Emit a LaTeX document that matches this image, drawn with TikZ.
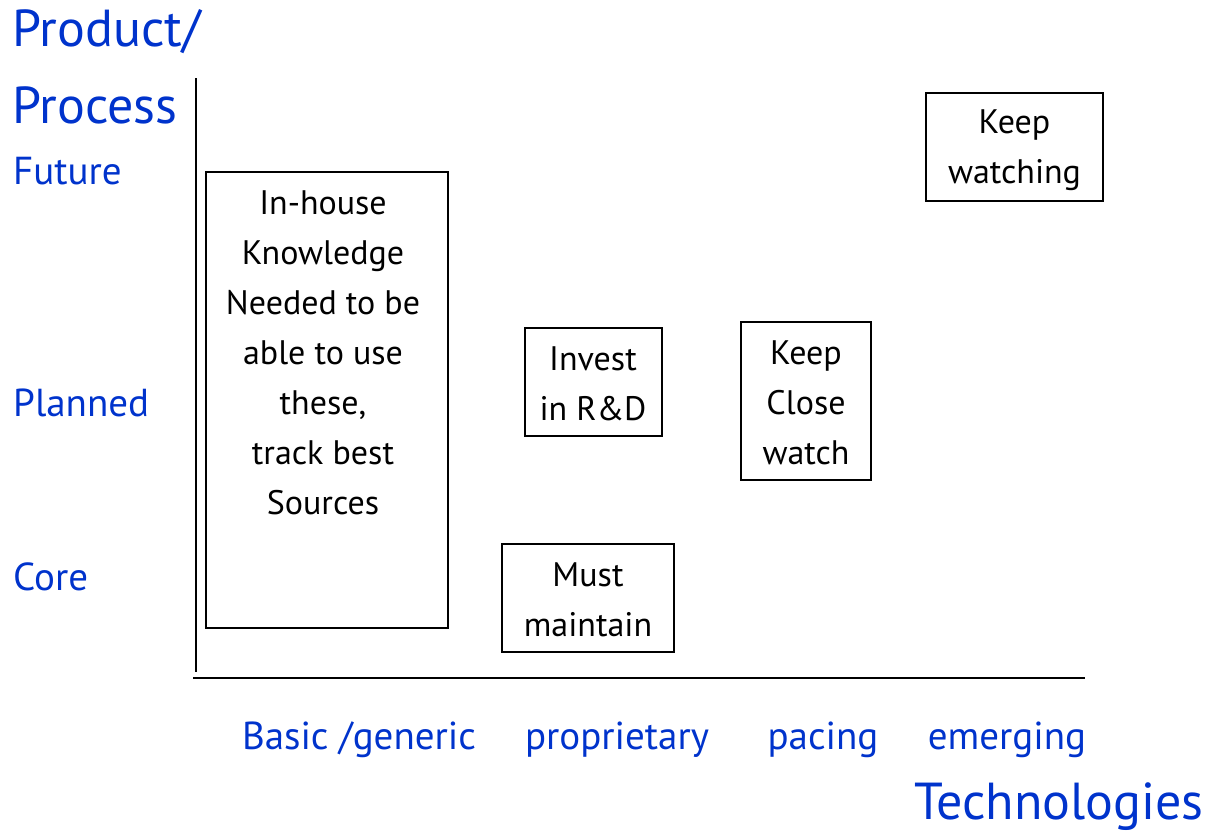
\documentclass[tikz,border=0pt]{standalone}
\usepackage{fontspec}
\setmainfont{PT Sans}
\definecolor{lblblue}{HTML}{0033CC}
\tikzset{
  axislbl/.style={text=lblblue, inner sep=0pt, font=\fontsize{39}{43}\selectfont},
  biglbl/.style={text=lblblue, inner sep=0pt, font=\fontsize{52}{56}\selectfont},
  boxtxt/.style={inner sep=0pt, align=center, font=\fontsize{34}{50}\selectfont},
  cell/.style={draw=black, line width=1.5pt, inner sep=0pt},
}
\begin{document}
\begin{tikzpicture}[x=1pt,y=-1pt]
\useasboundingbox (0,0) rectangle (1222,836);
% axes
\coordinate (vtop) at (196,78);
\coordinate (vbot) at (196,672);
\coordinate (hl) at (193,678);
\coordinate (hr) at (1085,678);
\draw[line width=1.5pt] (vtop) -- (vbot);
\draw[line width=1.5pt] (hl) -- (hr);
% axis titles
\node[biglbl, anchor=west] (prod) at (12,32) {Product/};
\node[biglbl, anchor=west] (proc) at (12,105) {Process};
\node[biglbl, anchor=east] (tech) at (1204,807) {Technologies};
% y labels
\node[axislbl, anchor=west] (fut) at (13,171) {Future};
\node[axislbl, anchor=west] (plan) at (13,403) {Planned};
\node[axislbl, anchor=west] (core) at (13,577) {Core};
% x labels
\node[axislbl] (basic) at (359,740) {Basic /generic};
\node[axislbl] (prop) at (617,740) {proprietary};
\node[axislbl] (pace) at (823,740) {pacing};
\node[axislbl] (emer) at (1007,740) {emerging};
% boxes
\node[cell, minimum width=242, minimum height=456] (b1) at (327,400) {};
\node[boxtxt] (t1) at (323,353) {In-house\\ Knowledge\\Needed to be\\able to use\\these,\\track best\\ Sources};
\node[cell, minimum width=137, minimum height=108] (b2) at (593.5,382) {};
\node[boxtxt] (t2) at (593,384) {Invest\\in R\&D};
\node[cell, minimum width=130, minimum height=158] (b3) at (806,401) {};
\node[boxtxt] (t3) at (806,403) {Keep\\Close\\watch};
\node[cell, minimum width=172, minimum height=108] (b4) at (588,598) {};
\node[boxtxt] (t4) at (588,600) {Must\\maintain};
\node[cell, minimum width=177, minimum height=108] (b5) at (1014.5,147) {};
\node[boxtxt] (t5) at (1014.5,150) {Keep\\watching};
\end{tikzpicture}
\end{document}
